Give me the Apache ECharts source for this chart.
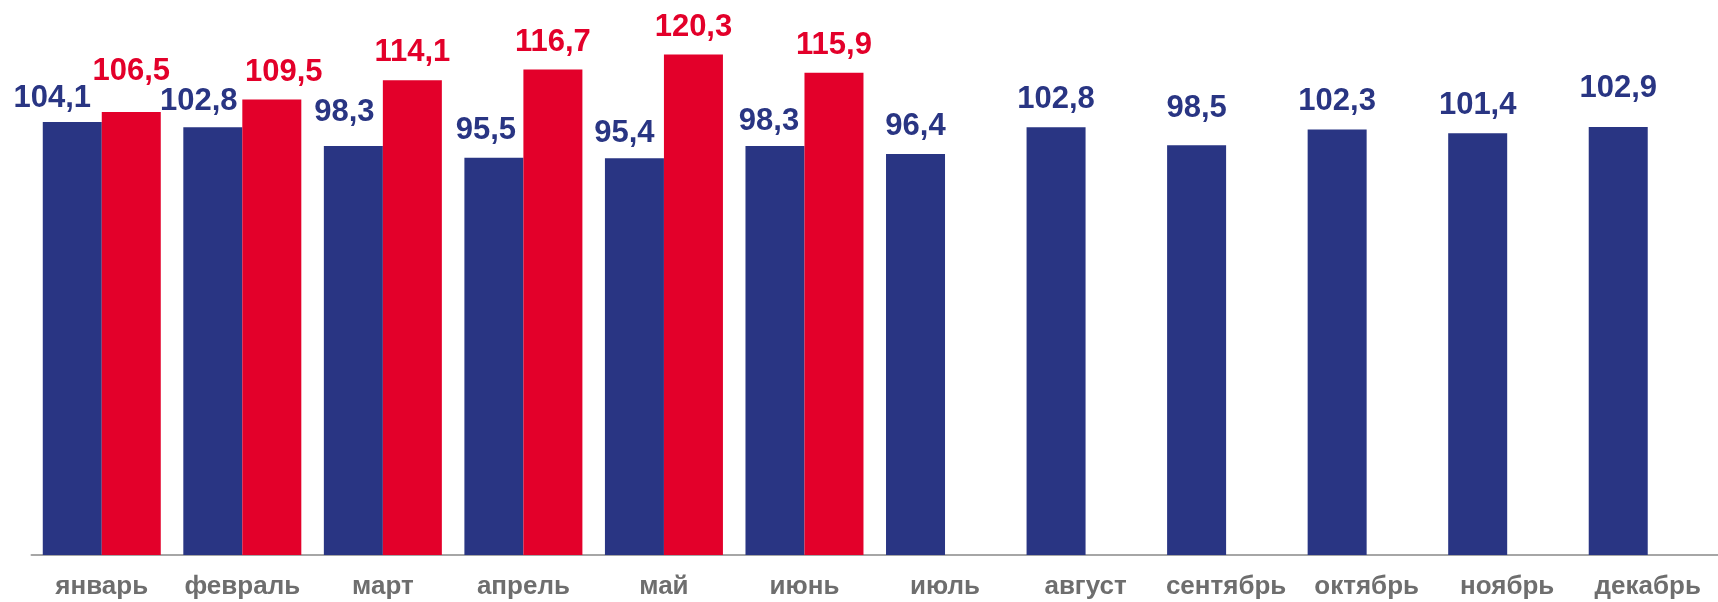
<!DOCTYPE html>
<html>
<head>
<meta charset="utf-8">
<script src="https://cdn.jsdelivr.net/npm/echarts@6/dist/echarts.min.js"></script>
<style>
html,body{margin:0;padding:0;background:#fff;}
#chart{width:1718px;height:602px;}
</style>
</head>
<body>
<div id="chart"></div>
<script>
// Data
const categories = ['январь','февраль','март','апрель','май','июнь','июль','август','сентябрь','октябрь','ноябрь','декабрь'];
const seriesBlue = [104.1, 102.8, 98.3, 95.5, 95.4, 98.3, 96.4, 102.8, 98.5, 102.3, 101.4, 102.9];
const seriesRed = [106.5, 109.5, 114.1, 116.7, 120.3, 115.9, null, null, null, null, null, null];

// Label nudges (layout only)
const blueLabelOffsets = [[-20,4],[-14,2],[-9,-6],[-8,0],[-10,3],[-6,3],[0,0],[0,0],[0,-9],[0,0],[0,0],[0,-11]];
const redLabelOffsets = [[0,-13],[12,0],[0,0],[0,0],[0,0],[0,0],[0,0],[0,0],[0,0],[0,0],[0,0],[0,0]];

const BLUE = '#293583';
const RED = '#E3002A';
const FONT = 'Liberation Sans, Arial, sans-serif';

function build(values, offsets) {
  return values.map((v, i) => v == null ? null : ({ value: v, label: { offset: offsets[i] } }));
}
const fmt = p => String(p.value).replace('.', ',');

const chart = echarts.init(document.getElementById('chart'), null, { renderer: 'canvas' });
chart.setOption({
  animation: false,
  grid: { left: 31.5, right: -17.5, top: 14.2, bottom: 47, containLabel: false },
  xAxis: {
    type: 'category',
    data: categories,
    axisLine: { show: true, lineStyle: { color: '#a6a6a6', width: 2 } },
    axisTick: { show: false },
    axisLabel: { color: '#6e6e6e', fontSize: 26, fontWeight: 'bold', fontFamily: FONT, margin: 19, interval: 0 }
  },
  yAxis: { type: 'value', min: 0, max: 130, show: false, splitLine: { show: false } },
  series: [
    {
      type: 'bar', data: build(seriesBlue, blueLabelOffsets), barWidth: 59, barGap: '0%',
      itemStyle: { color: BLUE },
      label: { show: true, position: 'top', distance: 12, color: BLUE, fontSize: 31, fontWeight: 'bold', fontFamily: FONT, formatter: fmt }
    },
    {
      type: 'bar', data: build(seriesRed, redLabelOffsets), barWidth: 59, barGap: '0%',
      itemStyle: { color: RED },
      label: { show: true, position: 'top', distance: 12, color: RED, fontSize: 31, fontWeight: 'bold', fontFamily: FONT, formatter: fmt }
    }
  ]
});
</script>
</body>
</html>
